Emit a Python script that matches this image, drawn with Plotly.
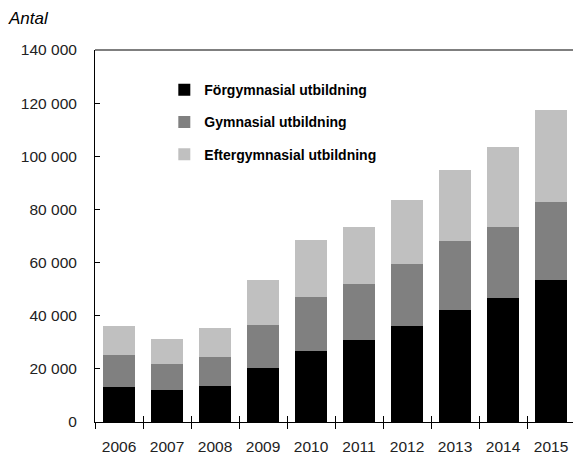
import plotly.graph_objects as go

years = ["2006", "2007", "2008", "2009", "2010", "2011", "2012", "2013", "2014", "2015"]

# Antal per utbildningsnivå (staplade)
forgymnasial = [13100, 12100, 13600, 20300, 26600, 31000, 36100, 42000, 46800, 53500]
gymnasial = [12200, 9800, 11000, 16300, 20600, 21100, 23300, 26000, 26600, 29400]
eftergymnasial = [11000, 9400, 10700, 16800, 21200, 21400, 24000, 26900, 30100, 34500]

series_names = ["Förgymnasial utbildning", "Gymnasial utbildning", "Eftergymnasial utbildning"]
series_values = [forgymnasial, gymnasial, eftergymnasial]
series_colors = ["#000000", "#808080", "#c0c0c0"]

base_font = "Liberation Sans, Arial, sans-serif"

fig = go.Figure()
for name, vals, col in zip(series_names, series_values, series_colors):
    fig.add_trace(go.Bar(
        x=years, y=vals, name=name, legendgroup=name,
        marker=dict(color=col, line=dict(width=0)),
    ))

x_range = [-0.5, 9.458]

fig.update_layout(
    width=573, height=457,
    margin=dict(l=95, r=0, t=50, b=35),
    paper_bgcolor="white", plot_bgcolor="white",
    barmode="stack", bargap=0.333,
    separators=", ",
    font=dict(family=base_font, size=15.5, color="#222222"),
    showlegend=True,
    legend=dict(
        x=0.145, y=0.935, xanchor="left", yanchor="top",
        traceorder="grouped", tracegroupgap=11,
        font=dict(family=base_font, size=14, color="#000000", weight="bold"),
        bgcolor="rgba(0,0,0,0)",
    ),
    xaxis=dict(
        type="category", range=x_range, tickson="boundaries", tickangle=0,
        ticks="outside", ticklen=6, tickcolor="#000000", tickwidth=1,
        showline=True, linecolor="#000000", linewidth=1,
        showgrid=False, zeroline=False, ticklabelstandoff=10,
    ),
    xaxis2=dict(
        overlaying="x", anchor="y", side="bottom", range=x_range,
        tickmode="array", tickvals=[i - 0.5 for i in range(10)],
        ticks="inside", ticklen=6, tickcolor="#000000", tickwidth=1,
        showticklabels=False, showline=False, showgrid=False, zeroline=False,
    ),
    yaxis=dict(
        range=[0, 140000], dtick=20000, tickformat=",d",
        ticks="inside", ticklen=5, tickcolor="#000000", tickwidth=1,
        showline=True, linecolor="#000000", linewidth=1,
        showgrid=False, zeroline=False, ticklabelstandoff=14,
    ),
    shapes=[dict(type="line", xref="paper", yref="paper",
                 x0=0, x1=1, y0=1, y1=1,
                 line=dict(color="#555555", width=1.5))],
    annotations=[dict(
        text="Antal", xref="paper", yref="paper",
        x=(6 - 95) / 478, y=1 + (50 - 18) / 372,
        xanchor="left", yanchor="middle", showarrow=False,
        font=dict(family=base_font, size=17, color="#000000", style="italic"),
    )],
)

# dummy trace so the overlay axis is drawn
fig.add_trace(go.Scatter(x=[0], y=[0], xaxis="x2", mode="markers",
                         marker=dict(opacity=0), showlegend=False, hoverinfo="skip"))

fig.write_html("out.html")
